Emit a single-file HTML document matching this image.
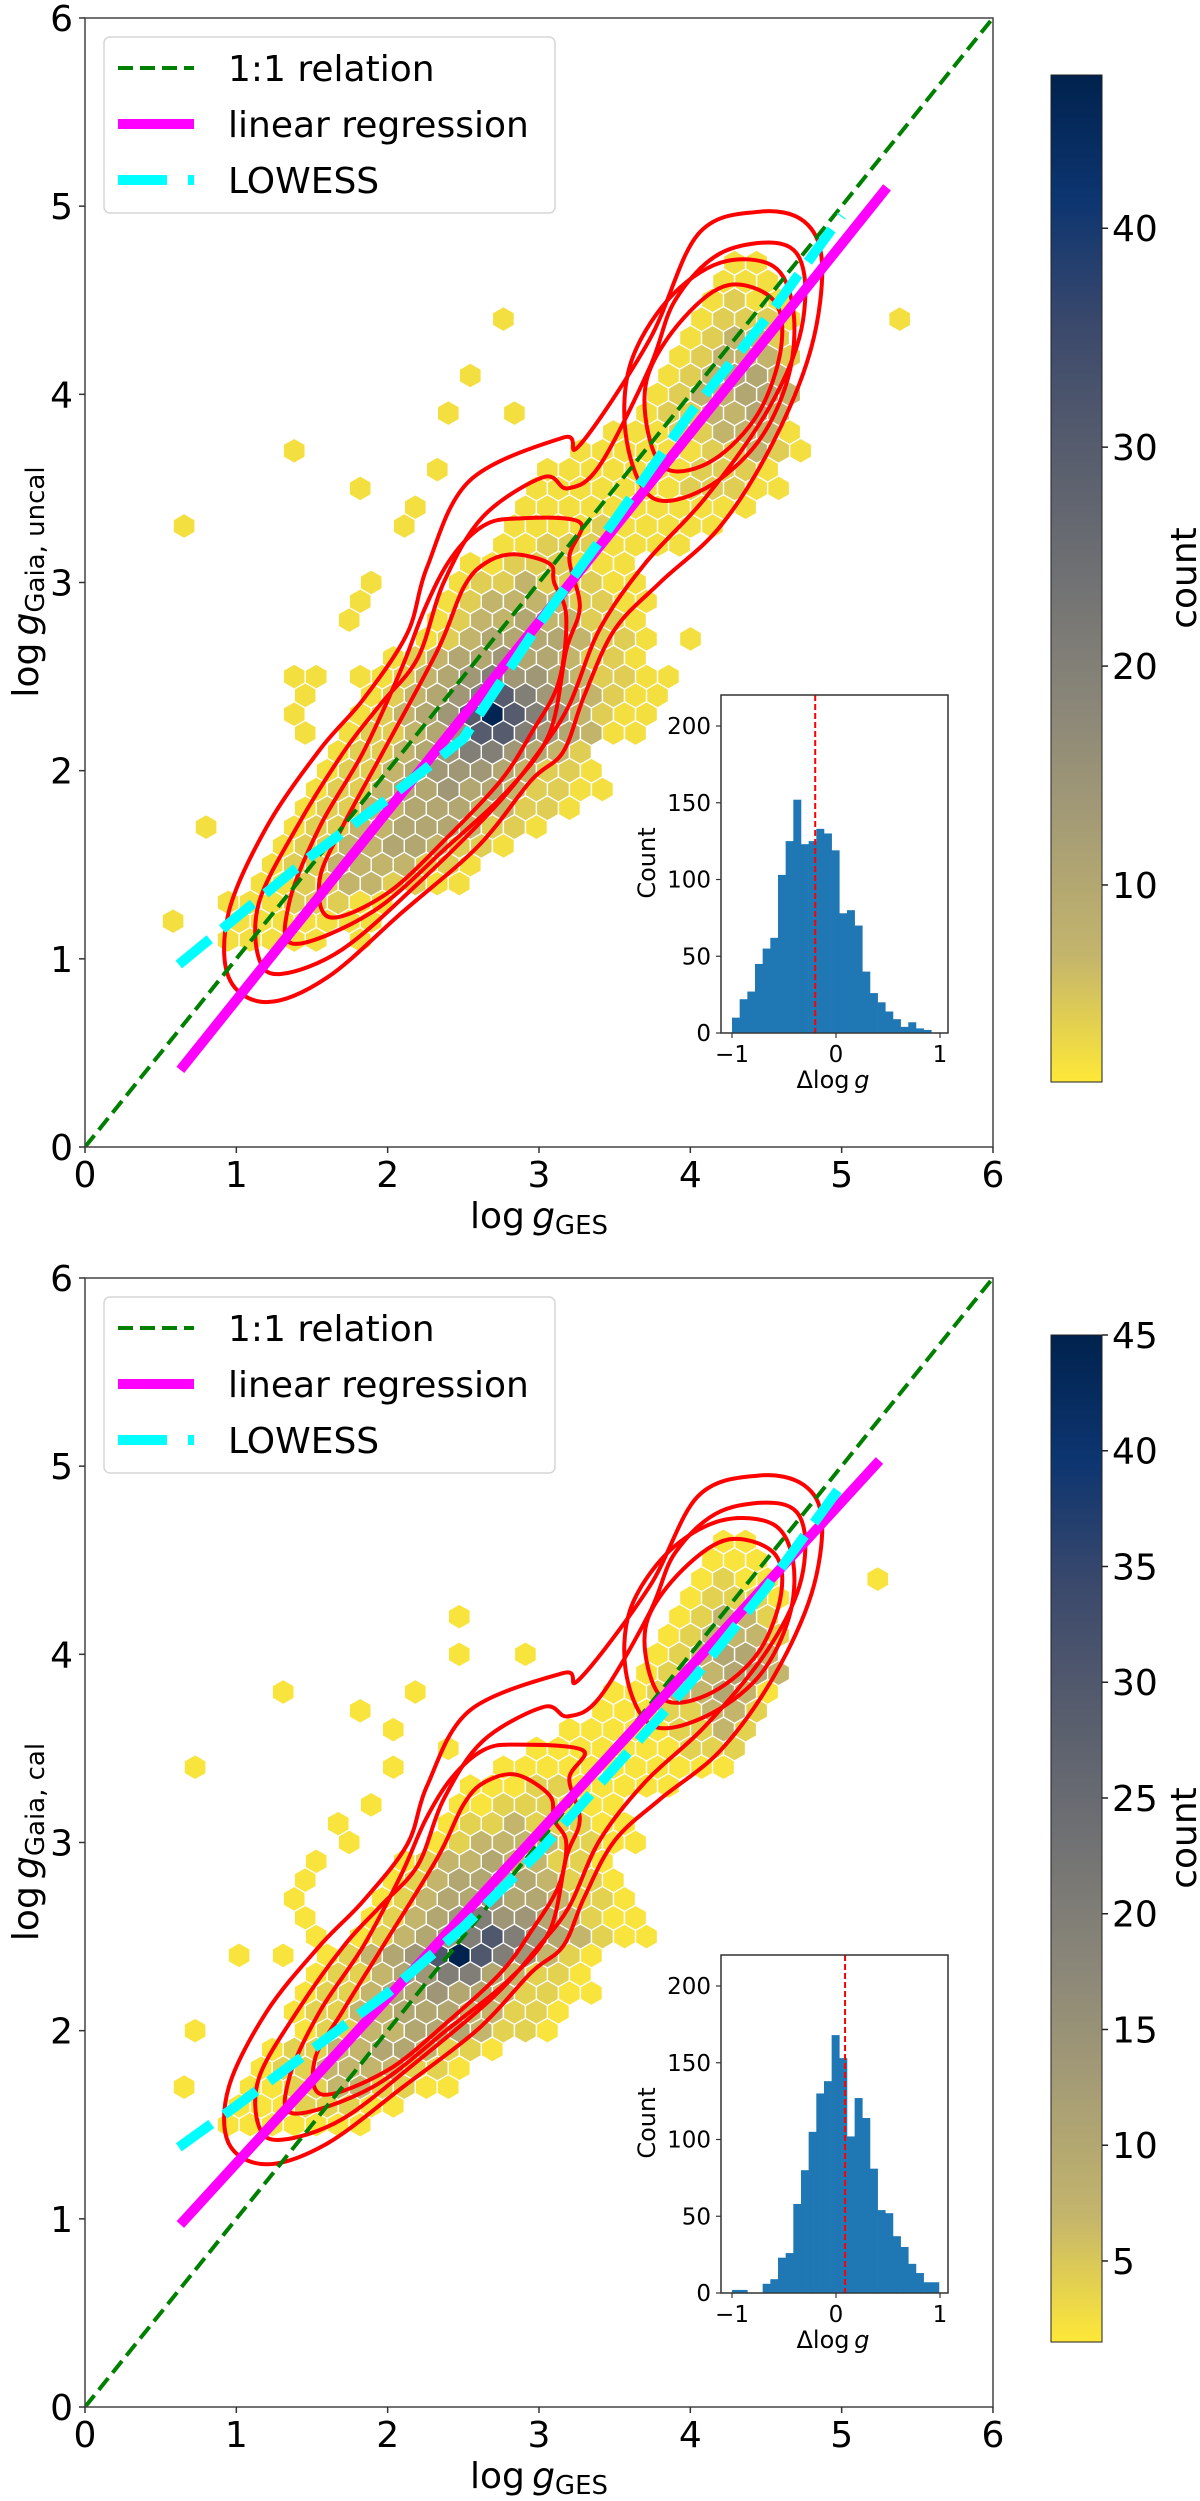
<!DOCTYPE html>
<html><head><meta charset="utf-8">
<style>
html,body{margin:0;padding:0;background:#fff;}
svg{display:block;font-family:"DejaVu Sans","Liberation Sans",sans-serif;}
</style></head>
<body>
<svg id="fig" xmlns="http://www.w3.org/2000/svg" width="1200" height="2501" viewBox="0 0 1200 2501">
<defs>
<linearGradient id="cmap" x1="0" y1="0" x2="0" y2="1">
<stop offset="0" stop-color="#00224e"/><stop offset="0.125" stop-color="#0d3570"/><stop offset="0.25" stop-color="#3b496c"/><stop offset="0.375" stop-color="#575d6d"/><stop offset="0.5" stop-color="#707173"/><stop offset="0.625" stop-color="#8a8678"/><stop offset="0.75" stop-color="#a69d75"/><stop offset="0.875" stop-color="#c4b56c"/><stop offset="1" stop-color="#fee838"/>
</linearGradient>
<clipPath id="clipTop"><rect x="85" y="18" width="908" height="1129"/></clipPath>
<clipPath id="clipBot"><rect x="85" y="1278" width="908" height="1129"/></clipPath>
</defs>
<rect x="0" y="0" width="1200" height="2501" fill="#fff"/>
</svg>
<script>
// ---------- DATA: top panel (uncalibrated) ----------
const topHexRows = [
[1.1,1.0,"11111.1"],[1.2,0.95,"1111111"],[1.3,1.0,"11122211"],[1.4,1.1,"1122332211"],
[1.5,1.2,"1223333221"],[1.6,1.3,"12233443221"],[1.7,1.35,"122334443221"],[1.8,1.45,"1223344433221"],
[1.9,1.5,"12234454432211"],[2.0,1.6,"1223455543221"],[2.1,1.7,"122345665432"],[2.2,1.7,"12234577654321"],
[2.3,1.8,"1234578765321"],[2.4,1.9,"12345676543211"],[2.5,2.0,"1234565543221"],[2.6,2.1,"123445443221"],
[2.7,2.2,"12344443221"],[2.8,2.3,"1233433221"],[2.9,2.4,"1233332211"],[3.0,2.5,"122322211"],
[3.1,2.6,"11222111"],[3.2,2.7,"112221111"],[3.3,2.8,"1111211111"],[3.4,2.9,"11111111111"],
[3.5,3.0,"111111122211"],[3.6,3.1,"11111112221"],[3.7,3.3,"11111122321"],[3.8,3.5,"111223331"],
[3.9,3.7,"1223343"],[4.0,3.8,"1233443"],[4.1,3.85,"123443"],[4.2,3.9,"123332"],
[4.3,4.0,"12332"],[4.4,4.05,"12221"],[4.5,4.1,"1211"],[4.6,4.2,"111"],[4.7,4.3,"11"]
];
const topOutX = [0.71,1.33,1.79,2.33,2.49,2.72,2.80,2.33,2.17,2.10,1.86,1.79,1.71,1.40,1.56,1.48,1.86,1.40,1.48,0.78,0.63,3.48,3.33,3.72,3.95,3.89,3.49,3.34,5.35];
const topOutY = [3.30,3.74,3.52,3.85,4.06,4.39,3.85,3.63,3.41,3.30,2.97,2.86,2.75,2.53,2.53,2.42,2.53,2.32,2.20,1.66,1.22,2.20,2.00,2.32,2.65,2.53,2.22,1.99,4.40];
const topRegX = [0.63,5.3];
const topRegY = [0.41,5.1];
const topLowX = [0.62,1.0,1.5,2.0,2.5,3.0,3.5,4.0,4.5,5.0];
const topLowY = [0.97,1.22,1.55,1.85,2.17,2.78,3.33,3.9,4.4,4.95];
const topC1X = [1.2,1.6,2.1,2.6,2.95,3.16,3.3,3.5,3.8,4.2,4.55,4.8,4.87,4.75,4.45,4.05,3.73,3.27,3.16,2.54,2.26,2.13,1.84,1.55,1.2,0.95,0.95];
const topC1Y = [0.77,0.9,1.25,1.6,1.95,2.1,2.4,2.75,3.0,3.3,3.75,4.25,4.7,4.92,4.97,4.85,4.29,3.73,3.77,3.54,3.08,2.73,2.38,2.11,1.7,1.25,0.9];
const topC2X = [1.3,1.7,2.2,2.7,3.0,3.2,3.4,3.7,4.1,4.5,4.72,4.75,4.6,4.2,3.9,3.73,3.4,3.19,3.03,2.63,2.37,2.2,1.95,1.71,1.4,1.15,1.15];
const topC2Y = [0.92,1.05,1.4,1.8,2.1,2.35,2.75,3.1,3.45,3.9,4.3,4.65,4.8,4.75,4.5,4.14,3.62,3.5,3.56,3.35,3.0,2.6,2.35,2.1,1.7,1.3,1.0];
const topC3X = [1.38,1.9,2.4,2.8,3.07,3.18,3.27,3.2,3.27,2.85,2.63,2.42,2.25,2.09,1.84,1.55,1.35];
const topC3Y = [1.08,1.25,1.6,1.9,2.2,2.64,2.87,3.13,3.32,3.34,3.3,3.13,2.87,2.54,2.1,1.7,1.3];
const topC3uX = [3.75,4.1,4.45,4.65,4.68,4.55,4.2,3.85,3.6,3.58];
const topC3uY = [3.45,3.5,3.75,4.1,4.45,4.68,4.7,4.5,4.15,3.75];
const topC4X = [1.62,2.0,2.4,2.75,2.95,3.13,3.18,3.1,3.07,2.83,2.64,2.5,2.33,1.97,1.7,1.55];
const topC4Y = [1.22,1.35,1.65,1.95,2.2,2.47,2.82,3.0,3.1,3.15,3.1,2.97,2.64,2.1,1.7,1.42];
const topC4uX = [3.85,4.15,4.45,4.6,4.55,4.25,3.95,3.72,3.72];
const topC4uY = [3.6,3.65,3.9,4.25,4.5,4.58,4.4,4.1,3.8];
const topHistCounts = [10,22,27,45,55,62,103,125,152,123,125,133,130,119,78,80,70,40,26,20,14,9,4,7,3,2,0];
const topHistMean = -0.2;
const topCbarTicks = [10,20,30,40];

// ---------- DATA: bottom panel (calibrated) ----------
const botHexRows = [
[1.5,1.0,"1111111"],[1.6,1.0,"11122211"],[1.7,1.1,"1122332211"],[1.8,1.2,"1223333221"],
[1.9,1.3,"12233443221"],[2.0,1.4,"122334443221"],[2.1,1.45,"1223344433221"],[2.2,1.5,"12234454432211"],
[2.3,1.55,"1223456643221"],[2.4,1.6,"1234578765321"],[2.5,1.75,"12345676543211"],[2.6,1.85,"1234565543221"],
[2.7,1.95,"123445443221"],[2.8,2.05,"12344443221"],[2.9,2.15,"1233433221"],[3.0,2.3,"1233332211"],
[3.1,2.4,"122322211"],[3.2,2.5,"11222111"],[3.3,2.6,"1112211111"],[3.4,2.75,"11111111111"],
[3.5,2.95,"1111111222"],[3.6,3.15,"111112232"],[3.7,3.35,"11122332"],[3.8,3.5,"11233431"],
[3.9,3.65,"1233443"],[4.0,3.75,"123443"],[4.1,3.85,"123332"],[4.2,3.9,"12332"],
[4.3,4.0,"12221"],[4.4,4.05,"1211"],[4.5,4.15,"111"],[4.6,4.25,"11"]
];
const botOutX = [0.71,1.33,2.41,2.41,2.87,2.25,1.87,2.10,2.33,2.10,1.94,1.71,1.79,1.48,1.40,1.33,1.40,1.48,1.09,1.25,0.78,0.71,3.42,3.34,5.3];
const botOutY = [3.41,3.78,4.16,3.97,3.97,3.78,3.69,3.60,3.50,3.41,3.22,3.13,3.03,2.85,2.75,2.66,2.56,2.47,2.38,2.38,2.00,1.71,2.56,2.28,4.36];
const botRegX = [0.63,5.25];
const botRegY = [0.97,5.03];
const botLowX = [0.62,1.0,1.5,2.0,2.5,3.0,3.5,4.0,4.5,5.0];
const botLowY = [1.38,1.6,1.9,2.2,2.55,2.95,3.4,3.85,4.35,4.9];
const botC1X = [1.2,1.6,2.1,2.6,2.95,3.16,3.3,3.5,3.8,4.2,4.55,4.8,4.87,4.75,4.45,4.05,3.73,3.27,3.16,2.54,2.26,2.13,1.84,1.55,1.2,0.95,0.95];
const botC1Y = [1.29,1.40,1.70,2.01,2.31,2.45,2.71,3.01,3.23,3.49,3.88,4.32,4.71,4.90,4.95,4.84,4.36,3.87,3.90,3.70,3.30,2.99,2.69,2.45,2.10,1.70,1.40];
const botC2X = [1.3,1.7,2.2,2.7,3.0,3.2,3.4,3.7,4.1,4.5,4.72,4.75,4.6,4.2,3.9,3.73,3.4,3.19,3.03,2.63,2.37,2.2,1.95,1.71,1.4,1.15,1.15];
const botC2Y = [1.42,1.53,1.84,2.18,2.45,2.66,3.01,3.32,3.62,4.01,4.36,4.67,4.80,4.76,4.54,4.22,3.77,3.67,3.72,3.54,3.23,2.88,2.66,2.45,2.10,1.75,1.49];
const botC3X = [1.38,1.9,2.4,2.8,3.07,3.18,3.27,3.2,3.29,2.85,2.63,2.42,2.25,2.09,1.84,1.55,1.35];
const botC3Y = [1.56,1.70,2.01,2.27,2.53,2.92,3.12,3.34,3.49,3.52,3.49,3.34,3.12,2.83,2.45,2.10,1.75];
const botC3uX = [3.75,4.1,4.45,4.65,4.68,4.55,4.2,3.85,3.6,3.58];
const botC3uY = [3.62,3.67,3.88,4.19,4.49,4.69,4.71,4.54,4.23,3.88];
const botC4X = [1.57,2.0,2.4,2.75,2.95,3.13,3.18,3.1,3.07,2.85,2.64,2.5,2.33,1.97,1.7,1.52];
const botC4Y = [1.66,1.79,2.05,2.31,2.53,2.77,3.00,3.12,3.25,3.36,3.32,3.20,2.92,2.45,2.10,1.85];
const botC4uX = [3.85,4.15,4.45,4.6,4.55,4.25,3.95,3.72,3.72];
const botC4uY = [3.75,3.80,4.01,4.32,4.54,4.61,4.45,4.19,3.93];
const botHistCounts = [2,2,0,0,6,9,23,26,58,80,105,130,138,168,153,102,127,114,81,54,52,37,30,19,13,7,7];
const botHistMean = 0.087;
const botCbarTicks = [5,10,15,20,25,30,35,40,45];

// code -> count
const codeCounts = {"1":2,"2":4,"3":7,"4":10,"5":14,"6":20,"7":30,"8":46};
const xTicks = [0,1,2,3,4,5,6];
const yTicks = [0,1,2,3,4,5,6];
const histXTicks = [-1,0,1];
const histYTicks = [0,50,100,150,200];

const NS = "http://www.w3.org/2000/svg";
const svg = document.getElementById('fig');
function mk(tag, attrs, parent){
  const e = document.createElementNS(NS, tag);
  for (const k in attrs) e.setAttribute(k, attrs[k]);
  (parent||svg).appendChild(e);
  return e;
}
const cStops = [[0,[0,34,78]],[0.125,[13,53,112]],[0.25,[59,73,108]],[0.375,[87,93,109]],[0.5,[112,113,115]],[0.625,[138,134,120]],[0.75,[166,157,117]],[0.875,[196,181,108]],[1,[254,232,56]]];
function cividisR(t){
  let u = 1 - Math.max(0, Math.min(1, t));
  for (let i=1;i<cStops.length;i++){
    if (u <= cStops[i][0]){
      const a=cStops[i-1], b=cStops[i], f=(u-a[0])/(b[0]-a[0]);
      const c=a[1].map((v,j)=>Math.round(v+(b[1][j]-v)*f));
      return `rgb(${c[0]},${c[1]},${c[2]})`;
    }
  }
  return 'rgb(254,232,56)';
}
function smoothClosed(pts){
  const n=pts.length; let d=`M${pts[0][0].toFixed(1)},${pts[0][1].toFixed(1)}`;
  for(let i=0;i<n;i++){
    const p0=pts[(i-1+n)%n],p1=pts[i],p2=pts[(i+1)%n],p3=pts[(i+2)%n];
    const c1=[p1[0]+(p2[0]-p0[0])/6,p1[1]+(p2[1]-p0[1])/6];
    const c2=[p2[0]-(p3[0]-p1[0])/6,p2[1]-(p3[1]-p1[1])/6];
    d+=`C${c1[0].toFixed(1)},${c1[1].toFixed(1)} ${c2[0].toFixed(1)},${c2[1].toFixed(1)} ${p2[0].toFixed(1)},${p2[1].toFixed(1)}`;
  }
  return d+'Z';
}

function drawPanel(P){
  const oy = P.oy;
  const X = v => 85 + 151.33*v;
  const Y = v => 1147 + oy - 188.17*v;
  const g = mk('g', {});
  
  
  const plot = mk('g', {'clip-path': `url(#${P.clip})`}, g);
  
  

  const sx = 0.1455;
  const hexG = mk('g', {}, plot);
  
  
  const hw = 10.9, hq = 6.25, hh = 12.5;
  function hex(cx, cy, count){
    const px = X(cx), py = Y(cy);
    const pts = [[px,py-hh],[px+hw,py-hq],[px+hw,py+hq],[px,py+hh],[px-hw,py+hq],[px-hw,py-hq]].map(p=>p[0].toFixed(1)+','+p[1].toFixed(1)).join(' ');
    const t = (count - P.vmin)/(P.vmax - P.vmin);
    const h = mk('polygon', {points: pts, fill: cividisR(t), stroke: '#fff', 'stroke-width': 1.2}, hexG);
    
    
  }
  P.rows.forEach(r => {
    const y = r[0], ri = Math.round(y*10), off = (ri % 2) ? 0.5 : 0;
    const k0 = Math.round(r[1]/sx - off);
    for (let i=0;i<r[2].length;i++){
      const c = r[2][i]; if (c === '.') continue;
      hex((k0+i+off)*sx, ri/10, codeCounts[c]);
    }
  });
  P.outX.forEach((x,i) => {
    const ri = Math.round(P.outY[i]*10), off = (ri%2)?0.5:0;
    const k = Math.round(x/sx - off);
    hex((k+off)*sx, ri/10, 2);
  });

  const cg = mk('g', {}, plot);
  
  
  P.contours.forEach((c) => {
    const pts = c[0].map((x,i)=>[X(x), Y(c[1][i])]);
    const p = mk('path', {d: smoothClosed(pts), fill: 'none', stroke: '#ff0000', 'stroke-width': 4}, cg);
    
    
  });

  const one = mk('line', {x1: X(0), y1: Y(0), x2: X(6), y2: Y(6), stroke: '#008000', 'stroke-width': 4, 'stroke-dasharray': '15 7'}, plot);
  
  
  const reg = mk('line', {x1: X(P.regX[0]), y1: Y(P.regY[0]), x2: X(P.regX[1]), y2: Y(P.regY[1]), stroke: '#ff00ff', 'stroke-width': 10}, plot);
  
  
  const lw = mk('polyline', {points: P.lowX.map((x,i)=>X(x).toFixed(1)+','+Y(P.lowY[i]).toFixed(1)).join(' '), fill: 'none', stroke: '#00ffff', 'stroke-width': 10, 'stroke-dasharray': '40 16'}, plot);
  
  

  const fr = mk('rect', {x: 85, y: 18+oy, width: 908, height: 1129, fill: 'none', stroke: '#444', 'stroke-width': 1.5}, g);
  
  

  xTicks.forEach(v => {
    const tl = mk('line', {x1: X(v), y1: Y(0), x2: X(v), y2: Y(0)+6, stroke: '#333', 'stroke-width': 1.5}, g);
    
    
    const t = mk('text', {x: X(v), y: Y(0)+40, 'font-size': 36, 'text-anchor': 'middle', fill: '#000'}, g);
    t.textContent = v;
    
    
  });
  yTicks.forEach(v => {
    const tl = mk('line', {x1: 79, y1: Y(v), x2: 85, y2: Y(v), stroke: '#333', 'stroke-width': 1.5}, g);
    
    
    const t = mk('text', {x: 73, y: Y(v)+13, 'font-size': 36, 'text-anchor': 'end', fill: '#000'}, g);
    t.textContent = v;
    
    
  });

  const xl = mk('text', {x: 539, y: 1228+oy, 'font-size': 36, 'text-anchor': 'middle', fill: '#000'}, g);
  xl.innerHTML = 'log\u2009<tspan font-style="italic">g</tspan><tspan font-size="26" dy="6">GES</tspan>';
  
  
  const yl = mk('text', {x: 0, y: 0, 'font-size': 36, 'text-anchor': 'middle', fill: '#000', transform: `translate(38,${582+oy}) rotate(-90)`}, g);
  yl.innerHTML = 'log\u2009<tspan font-style="italic">g</tspan><tspan font-size="26" dy="6">Gaia, ' + P.sub + '</tspan>';
  
  

  const lg = mk('g', {}, g);
  
  
  mk('rect', {x: 104, y: 37+oy, width: 451, height: 176, rx: 6, fill: 'rgba(255,255,255,0.85)', stroke: '#d6d6d6', 'stroke-width': 1.5}, lg);
  const rows = [['1:1 relation','#008000',4,'15 7'],['linear regression','#ff00ff',10,''],['LOWESS','#00ffff',10,'49 21']];
  rows.forEach((r,i) => {
    const cy = 68 + i*56 + oy;
    const ent = mk('g', {}, lg);
    
    
    const a = {x1: 118, y1: cy, x2: 194, y2: cy, stroke: r[1], 'stroke-width': r[2]};
    if (r[3]) a['stroke-dasharray'] = r[3];
    mk('line', a, ent);
    const t = mk('text', {x: 228, y: cy+13, 'font-size': 36, fill: '#000'}, ent);
    t.textContent = r[0];
  });

  const cb = mk('g', {}, g);
  
  
  const cbTop = 75+oy, cbBot = 1082+oy;
  mk('rect', {x: 1051, y: cbTop, width: 51, height: cbBot-cbTop, fill: 'url(#cmap)', stroke: '#222', 'stroke-width': 1}, cb);
  const CY = v => cbBot - (v - P.vmin)/(P.vmax - P.vmin)*(cbBot-cbTop);
  P.cbTicks.forEach(v => {
    mk('line', {x1: 1102, y1: CY(v), x2: 1108, y2: CY(v), stroke: '#222', 'stroke-width': 1.5}, cb);
    const t = mk('text', {x: 1112, y: CY(v)+13, 'font-size': 36, fill: '#000'}, cb);
    t.textContent = v;
    
    
  });
  const cl = mk('text', {x: 0, y: 0, 'font-size': 36, 'text-anchor': 'middle', fill: '#000', transform: `translate(1196,${578+oy}) rotate(-90)`}, cb);
  cl.textContent = 'count';
  
  

  const ig = mk('g', {}, g);
  
  
  const iL=721, iR=948, iT=695+oy, iB=1033+oy;
  const HX = v => 836 + 104*v;
  const HY = c => iB - 1.535*c;
  mk('rect', {x: iL, y: iT, width: iR-iL, height: iB-iT, fill: '#fff', stroke: '#333', 'stroke-width': 1.3}, ig);
  const bw = 0.0737, start = -1.0;
  P.hist.forEach((c,i) => {
    if (!c) return;
    const b = mk('rect', {x: HX(start+i*bw), y: HY(c), width: HX(start+(i+1)*bw)-HX(start+i*bw)+0.3, height: iB-HY(c), fill: '#1f77b4'}, ig);
    
    
  });
  const ml = mk('line', {x1: HX(P.mean), y1: iT, x2: HX(P.mean), y2: iB, stroke: '#ff0000', 'stroke-width': 2, 'stroke-dasharray': '6 3'}, ig);
  
  
  mk('rect', {x: iL, y: iT, width: iR-iL, height: iB-iT, fill: 'none', stroke: '#333', 'stroke-width': 1.3}, ig);
  histXTicks.forEach(v => {
    mk('line', {x1: HX(v), y1: iB, x2: HX(v), y2: iB+5, stroke: '#333', 'stroke-width': 1.2}, ig);
    const t = mk('text', {x: HX(v), y: iB+29, 'font-size': 23, 'text-anchor': 'middle', fill: '#000'}, ig);
    t.textContent = v < 0 ? '\u2212' + Math.abs(v) : v;
  });
  histYTicks.forEach(v => {
    mk('line', {x1: iL-5, y1: HY(v), x2: iL, y2: HY(v), stroke: '#333', 'stroke-width': 1.2}, ig);
    const t = mk('text', {x: 711, y: HY(v)+8, 'font-size': 23, 'text-anchor': 'end', fill: '#000'}, ig);
    t.textContent = v;
  });
  const hxl = mk('text', {x: 833, y: 1088+oy, 'font-size': 24, 'text-anchor': 'middle', fill: '#000'}, ig);
  hxl.innerHTML = '\u0394log\u2009<tspan font-style="italic">g</tspan>';
  const hyl = mk('text', {x: 0, y: 0, 'font-size': 24, 'text-anchor': 'middle', fill: '#000', transform: `translate(655,${863+oy}) rotate(-90)`}, ig);
  hyl.textContent = 'Count';
}

drawPanel({name:'uncalibrated', oy:0, clip:'clipTop', sub:'uncal', vmin:1, vmax:47,
  rows: topHexRows, outX: topOutX, outY: topOutY, regX: topRegX, regY: topRegY, lowX: topLowX, lowY: topLowY,
  contours: [[topC1X,topC1Y],[topC2X,topC2Y],[topC3X,topC3Y],[topC3uX,topC3uY],[topC4X,topC4Y],[topC4uX,topC4uY]],
  hist: topHistCounts, mean: topHistMean, cbTicks: topCbarTicks});
drawPanel({name:'calibrated', oy:1260, clip:'clipBot', sub:'cal', vmin:1.5, vmax:45,
  rows: botHexRows, outX: botOutX, outY: botOutY, regX: botRegX, regY: botRegY, lowX: botLowX, lowY: botLowY,
  contours: [[botC1X,botC1Y],[botC2X,botC2Y],[botC3X,botC3Y],[botC3uX,botC3uY],[botC4X,botC4Y],[botC4uX,botC4uY]],
  hist: botHistCounts, mean: botHistMean, cbTicks: botCbarTicks});
</script>
</body></html>
